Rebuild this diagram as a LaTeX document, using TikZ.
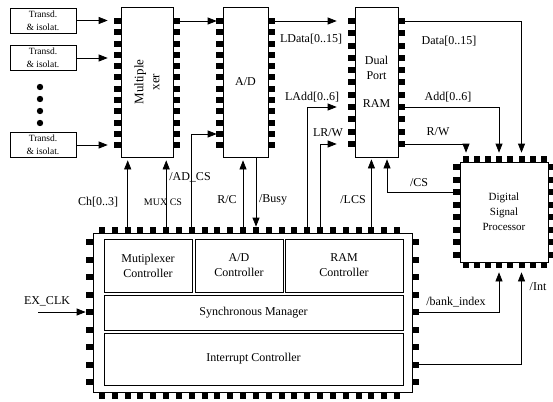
\documentclass[tikz,border=0pt]{standalone}
\usepackage{fontspec}
\setmainfont{Liberation Serif}
\usetikzlibrary{arrows.meta}
\newcommand{\lblfont}{\fontsize{12}{15}\selectfont}
\newcommand{\transfont}{\fontsize{9.5}{13}\selectfont}
\newcommand{\muxfont}{\fontsize{13}{16}\selectfont}
\newcommand{\dspfont}{\fontsize{11}{15}\selectfont}
\newcommand{\tinyfont}{\fontsize{10}{12}\selectfont}
\tikzset{
  transd/.style={draw,line width=0.7pt,minimum width=66pt,minimum height=25pt,inner sep=0pt,align=center,font=\transfont},
  chip/.style={draw,line width=0.7pt,inner sep=0pt,align=center,font=\lblfont},
  part/.style={draw,line width=0.7pt,inner sep=0pt,align=center,font=\lblfont},
  lbl/.style={inner sep=0pt,font=\lblfont},
  arr/.style={-{Triangle[length=9pt,width=7pt]},line width=0.7pt}
}
\begin{document}
\begin{tikzpicture}[x=1pt,y=-1pt]
\useasboundingbox (0,0) rectangle (553,401);
% transducers
\node[transd] (t1) at (43,20.5) {Transd.\\\& isolat.};
\node[transd] (t2) at (43,58) {Transd.\\\& isolat.};
\node[transd] (t3) at (43,145) {Transd.\\\& isolat.};
\foreach \y in {87,99,111,123} \fill (40,\y) circle (3.2pt);
% chips
\node[chip,minimum width=52pt,minimum height=150pt] (mux) at (147,82) {};
\node[lbl,rotate=90,align=center,font=\muxfont] (muxtxt) at (mux.center) {Multiple\\xer};
\node[chip,minimum width=45pt,minimum height=150pt] (ad) at (245.5,82) {A/D};
\node[chip,minimum width=43pt,minimum height=150pt] (ram) at (376.5,82) {Dual\\Port\\[13pt]RAM};
\node[chip,minimum width=88pt,minimum height=100pt,font=\dspfont] (dsp) at (504,212) {Digital\\Signal\\Processor};
\node[chip,minimum width=319pt,minimum height=159pt] (ctrl) at (252.5,312.5) {};
\node[part,minimum width=88pt,minimum height=53pt] (muxc) at (148,265.5) {Mutiplexer\\Controller};
\node[part,minimum width=88pt,minimum height=53pt] (adc) at (239,265.5) {A/D\\Controller};
\node[part,minimum width=118pt,minimum height=53pt] (ramc) at (344,265.5) {RAM\\Controller};
\node[part,minimum width=299pt,minimum height=35pt] (sync) at (253.5,312.5) {Synchronous Manager};
\node[part,minimum width=299pt,minimum height=52pt] (intc) at (253.5,359) {Interrupt Controller};
% pins
\foreach \y in {21,32.3,...,146}{
  \fill (114,\y-3) rectangle ++(7,6); \fill (173,\y-3) rectangle ++(7,6);
  \fill (216,\y-3) rectangle ++(7,6); \fill (268,\y-3) rectangle ++(7,6);
}
\foreach \y in {21,33.3,...,145}{
  \fill (348,\y-3) rectangle ++(7,6); \fill (398,\y-3) rectangle ++(7,6);
}
\foreach \x in {466,477.1,...,545}{
  \fill (\x-3,156) rectangle ++(6,6); \fill (\x-3,262) rectangle ++(6,6);
}
\foreach \y in {167,179.5,...,255}{
  \fill (453,\y-3) rectangle ++(7,6); \fill (548,\y-3) rectangle ++(7,6);
}
\foreach \x in {102,114.83,...,398}{
  \fill (\x-3,227) rectangle ++(6,6); \fill (\x-3,392) rectangle ++(6,7);
}
\foreach \y in {242,259.5,...,383}{
  \fill (86,\y-3) rectangle ++(7,6); \fill (412,\y-3) rectangle ++(7,6);
}
% bends
\coordinate (ch) at (127.7,0);
\coordinate (muxcs) at (166.2,0);
\coordinate (adcs) at (191.8,134);
\coordinate (rc) at (243,0);
\coordinate (busy) at (256,0);
\coordinate (ladd) at (307.3,107);
\coordinate (lrw) at (320,144);
\coordinate (lcs) at (371.4,0);
\coordinate (cs) at (387,192);
\coordinate (data) at (521.5,21);
\coordinate (add) at (499,107.1);
\coordinate (rw) at (466,144);
\coordinate (bank) at (499,312);
\coordinate (intr) at (521.5,364.5);
\coordinate (clk) at (38,312);
% connectors
\draw[arr,shorten >=13pt] (t1.east) -- (t1.east -| mux.west);
\draw[arr,shorten >=13pt] (t2.east) -- (t2.east -| mux.west);
\draw[arr,shorten >=13pt] (t3.east) -- (t3.east -| mux.west);
\draw[arr,shorten <=7pt,shorten >=6pt] (mux.east |- data) -- (ad.west |- data);
\draw[arr,shorten <=7pt,shorten >=18pt] (ad.east |- data) -- (ram.west |- data);
\draw[arr,shorten <=6pt,shorten >=3pt] (ctrl.north -| ch) -- (mux.south -| ch);
\draw[arr,shorten <=6pt,shorten >=3pt] (ctrl.north -| muxcs) -- (mux.south -| muxcs);
\draw[arr,shorten <=6pt,shorten >=6pt] (ctrl.north -| adcs) -- (adcs) -- (ad.west |- adcs);
\draw[arr,shorten <=6pt,shorten >=3pt] (ctrl.north -| rc) -- (ad.south -| rc);
\draw[arr,shorten >=6pt] (ad.south -| busy) -- (ctrl.north -| busy);
\draw[arr,shorten <=6pt,shorten >=18pt] (ctrl.north -| ladd) -- (ladd) -- (ram.west |- ladd);
\draw[arr,shorten <=6pt,shorten >=18pt] (ctrl.north -| lrw) -- (lrw) -- (ram.west |- lrw);
\draw[arr,shorten <=6pt,shorten >=2pt] (ctrl.north -| lcs) -- (ram.south -| lcs);
\draw[arr,shorten <=7pt,shorten >=2pt] (dsp.west |- cs) -- (cs) -- (ram.south -| cs);
\draw[arr,shorten <=7pt,shorten >=9pt] (ram.east |- data) -- (data) -- (dsp.north -| data);
\draw[arr,shorten <=7pt,shorten >=9pt] (ram.east |- add) -- (add) -- (dsp.north -| add);
\draw[arr,shorten <=7pt,shorten >=9pt] (ram.east |- rw) -- (rw) -- (dsp.north -| rw);
\draw[arr,shorten <=7pt,shorten >=10pt] (ctrl.east |- bank) -- (bank) -- (dsp.south -| bank);
\draw[arr,shorten <=7pt,shorten >=10pt] (ctrl.east |- intr) -- (intr) -- (dsp.south -| intr);
\draw[arr,shorten >=7pt] (clk) -- (ctrl.west |- clk);
% labels
\node[lbl] (lldata) at (311,39) {LData[0..15]};
\node[lbl] (lladd) at (312,97) {LAdd[0..6]};
\node[lbl] (llrw) at (328,133) {LR/W};
\node[lbl] (ldata) at (449,41) {Data[0..15]};
\node[lbl] (ladd) at (448,97) {Add[0..6]};
\node[lbl] (lrw) at (438,132) {R/W};
\node[lbl] (lcsl) at (419,183) {/CS};
\node[lbl] (ladcs) at (190,177) {/AD\_CS};
\node[lbl] (lch) at (98,202) {Ch[0..3]};
\node[lbl,font=\tinyfont] (lmuxcs) at (163,202) {MUX CS};
\node[lbl] (lrc) at (227,200) {R/C};
\node[lbl] (lbusy) at (273,200) {/Busy};
\node[lbl] (llcs) at (353,200) {/LCS};
\node[lbl] (lbank) at (456,302) {/bank\_index};
\node[lbl] (lint) at (538,287) {/Int};
\node[lbl] (lclk) at (47,301) {EX\_CLK};
\end{tikzpicture}
\end{document}
